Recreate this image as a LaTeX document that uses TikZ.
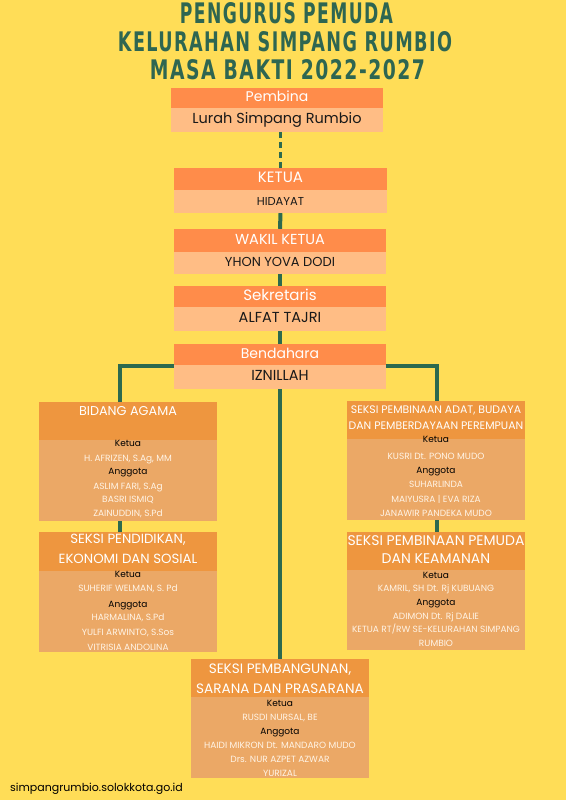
\documentclass[tikz,border=0pt]{standalone}
\usepackage{fontspec}
\setmainfont{Poppins}
\newfontfamily\titlefont[FakeStretch=0.75,LetterSpace=6]{DejaVu Sans}
\usetikzlibrary{backgrounds}
\definecolor{bgyellow}{HTML}{FFDD57}
\definecolor{hdrorange}{HTML}{FF8C4A}
\definecolor{bodyorange}{HTML}{FFBD85}
\definecolor{secorange}{HTML}{EE963F}
\definecolor{secbody}{HTML}{EBA866}
\definecolor{linegreen}{HTML}{2C6A4F}
\definecolor{titlegreen}{HTML}{2E6651}
\definecolor{cream}{HTML}{FFF4E6}
\newcommand\fsz[1]{\fontsize{#1}{#1}\selectfont}
\tikzset{
  txt/.style={inner sep=0pt, text height=0.72em, text depth=0pt},
  hdrbox/.style={txt, rectangle, fill=hdrorange, text=white},
  bodybox/.style={txt, rectangle, fill=bodyorange, text=black!90},
  sechdr/.style={rectangle, fill=secorange, inner sep=0pt},
  secbdy/.style={rectangle, fill=secbody, inner sep=0pt},
  sectitle/.style={txt, text=white},
  ktline/.style={txt, text=black, font=\fsz{9}},
  nmline/.style={txt, text=cream, font=\fsz{9}},
  conn/.style={draw=linegreen, line width=4pt},
  title/.style={inner sep=0pt, text=titlegreen},
}
\newcommand\kline[4]{\node[ktline] (#1) at (#2,#3) {#4};}
\newcommand\nline[4]{\node[nmline] (#1) at (#2,#3) {#4};}
\begin{document}
\begin{tikzpicture}[x=1pt,y=-1pt]
\useasboundingbox (0,0) rectangle (566,800);
% title
\node[title] (t1) at (286.5,13.5) {\resizebox{213pt}{21pt}{\titlefont\bfseries PENGURUS PEMUDA}};
\node[title] (t2) at (285,42) {\resizebox{334pt}{20pt}{\titlefont\bfseries KELURAHAN SIMPANG RUMBIO}};
\node[title] (t3) at (287.5,70) {\resizebox{275pt}{20pt}{\titlefont\bfseries MASA BAKTI 2022-2027}};

% top chain
\node[hdrbox, minimum width=212, minimum height=20, font=\fsz{14}] (pembinaH) at (277,98) {Pembina};
\node[bodybox, minimum width=212, minimum height=24, font=\fsz{14.5}] (pembinaB) at (277,120) {Lurah Simpang Rumbio};
\node[hdrbox, minimum width=213, minimum height=22, font=\fsz{15}] (ketuaH) at (280.5,179) {KETUA};
\node[bodybox, minimum width=213, minimum height=23, font=\fsz{11.5}] (ketuaB) at (280.5,201.5) {HIDAYAT};
\node[hdrbox, minimum width=212, minimum height=23, font=\fsz{14.5}] (wakilH) at (280,240.5) {WAKIL KETUA};
\node[bodybox, minimum width=212, minimum height=22, font=\fsz{13}] (wakilB) at (280,263) {YHON YOVA DODI};
\node[hdrbox, minimum width=212, minimum height=21, font=\fsz{15}] (sekH) at (280,296.5) {Sekretaris};
\node[bodybox, minimum width=212, minimum height=24, font=\fsz{14.5}] (sekB) at (280,319) {ALFAT TAJRI};
\node[hdrbox, minimum width=212, minimum height=21, font=\fsz{14}] (bendH) at (280,354.5) {Bendahara};
\node[bodybox, minimum width=212, minimum height=24, font=\fsz{14.5}] (bendB) at (280,377) {IZNILLAH};

% BIDANG AGAMA
\node[sechdr, minimum width=178, minimum height=38] (agamaH) at (128,421) {};
\node[secbdy, minimum width=178, minimum height=81] (agamaB) at (128,480.5) {};
\node[sectitle, font=\fsz{12.8}] (agamaT) at (128,412) {BIDANG AGAMA};
\kline{ag1}{128}{443}{Ketua}
\nline{ag2}{128}{458}{H. AFRIZEN, S.Ag, MM}
\kline{ag3}{128}{471}{Anggota}
\nline{ag4}{128}{486}{ASLIM FARI, S.Ag}
\nline{ag5}{128}{499}{BASRI ISMIQ}
\nline{ag6}{128}{513}{ZAINUDDIN, S.Pd}

% SEKSI PENDIDIKAN
\node[sechdr, minimum width=178, minimum height=39] (pendH) at (128,551.5) {};
\node[secbdy, minimum width=178, minimum height=81] (pendB) at (128,611.5) {};
\node[sectitle, font=\fsz{13.3}] (pendT1) at (128,540) {SEKSI PENDIDIKAN,};
\node[sectitle, font=\fsz{13.3}] (pendT2) at (128,560) {EKONOMI DAN SOSIAL};
\kline{pd1}{128}{574}{Ketua}
\nline{pd2}{128}{588}{SUHERIF WELMAN, S. Pd}
\kline{pd3}{128}{604}{Anggota}
\nline{pd4}{128}{617}{HARMALINA, S.Pd}
\nline{pd5}{128}{632}{YULFI ARWINTO, S.Sos}
\nline{pd6}{128}{647}{VITRISIA ANDOLINA}

% SEKSI ADAT
\node[sechdr, minimum width=178, minimum height=38] (adatH) at (436,420) {};
\node[secbdy, minimum width=178, minimum height=81] (adatB) at (436,479.5) {};
\node[sectitle, font=\fsz{10.9}] (adatT1) at (436,410) {SEKSI PEMBINAAN ADAT, BUDAYA};
\node[sectitle, font=\fsz{10.9}] (adatT2) at (436,426) {DAN PEMBERDAYAAN PEREMPUAN};
\kline{ad1}{436}{439}{Ketua}
\nline{ad2}{436}{456}{KUSRI Dt. PONO MUDO}
\kline{ad3}{436}{470}{Anggota}
\nline{ad4}{436}{484}{SUHARLINDA}
\nline{ad5}{436}{499}{MAIYUSRA | EVA RIZA}
\nline{ad6}{436}{513}{JANAWIR PANDEKA MUDO}

% SEKSI PEMUDA
\node[sechdr, minimum width=178, minimum height=38] (pemudaH) at (436,551) {};
\node[secbdy, minimum width=178, minimum height=80] (pemudaB) at (436,610) {};
\node[sectitle, font=\fsz{14}] (pemudaT1) at (436,542) {SEKSI PEMBINAAN PEMUDA};
\node[sectitle, font=\fsz{14}] (pemudaT2) at (436,560) {DAN KEAMANAN};
\kline{pm1}{436}{575}{Ketua}
\nline{pm2}{436}{588}{KAMRIL, SH Dt. Rj KUBUANG}
\kline{pm3}{436}{602}{Anggota}
\nline{pm4}{436}{616}{ADIMON Dt. Rj DALIE}
\nline{pm5}{436}{629}{KETUA RT/RW SE-KELURAHAN SIMPANG}
\nline{pm6}{436}{643}{RUMBIO}

% SEKSI PEMBANGUNAN
\node[sechdr, minimum width=178, minimum height=38] (bangH) at (280,678) {};
\node[secbdy, minimum width=178, minimum height=81] (bangB) at (280,737.5) {};
\node[sectitle, font=\fsz{13.6}] (bangT1) at (280,670) {SEKSI PEMBANGUNAN,};
\node[sectitle, font=\fsz{13.6}] (bangT2) at (280,690) {SARANA DAN PRASARANA};
\kline{bg1}{280}{703}{Ketua}
\nline{bg2}{280}{717}{RUSDI NURSAL, BE}
\kline{bg3}{280}{731}{Anggota}
\nline{bg4}{280}{745}{HAIDI MIKRON Dt. MANDARO MUDO}
\nline{bg5}{280}{759}{Drs. NUR AZPET AZWAR}
\nline{bg6}{280}{773}{YURIZAL}

% footer
\node[txt, text=black, font=\fsz{11}] (footer) at (96.5,788) {simpangrumbio.solokkota.go.id};

\coordinate (jl) at (120,366);
\coordinate (jr) at (437,366);

\begin{pgfonlayer}{background}
\fill[bgyellow] (0,0) rectangle (566,800);
\draw[draw=linegreen, line width=3pt, dash pattern=on 6pt off 4pt] (pembinaB.south -| ketuaH.north) -- (ketuaH.north);
\draw[conn] (ketuaB.south) -- (wakilH.north);
\draw[conn] (wakilB.south) -- (sekH.north);
\draw[conn] (sekB.south) -- (bendH.north);
\draw[conn] (bendB.south) -- (bangH.north);
\draw[conn] (bendH.west |- jl) -- (jl) -- (jl |- agamaH.north);
\draw[conn] (bendH.east |- jr) -- (jr) -- (jr |- adatH.north);
\draw[conn] (agamaB.south -| jl) -- (pendH.north -| jl);
\draw[conn] (adatB.south -| jr) -- (pemudaH.north -| jr);
\end{pgfonlayer}
\end{tikzpicture}
\end{document}
